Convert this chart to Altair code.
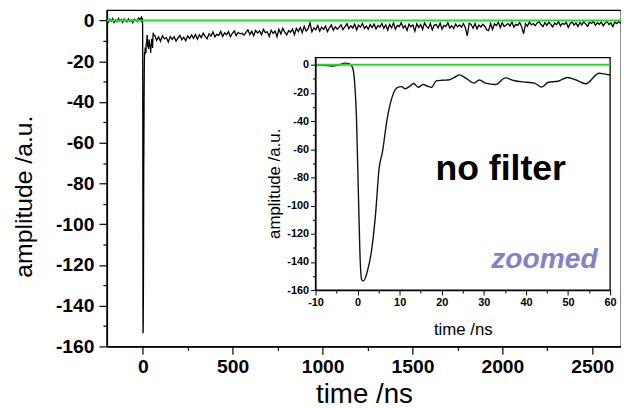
import altair as alt
import pandas as pd

FONT = "Liberation Sans"

# ---------------- data ----------------
# baseline before the trigger (main trace), sampled every 8 ns from -200 ns
pre_t_start = -200
pre_t_step = 8
pre_amp = [0.5, -0.8, 0.6, -0.4, 0.9, -1.0, 0.2, -0.6, 1.0, -0.3, 0.4, -0.9, 0.7,
           -0.2, -0.7, 0.8, -0.5, 0.3, -1.1, 0.6, 0.1, -0.4, 1.2, 0.5, 1.5]

# pulse region (shown in the zoomed inset)
pulse_t = [-10, -8, -6.3, -4.5, -3, -2, -1.2, -0.8, -0.25, 0.15, 0.55, 0.95, 1.4, 2.3,
           3.5, 4.3, 5.1, 5.9, 7.0, 8.2, 9.5, 10.5, 11.3, 12.5, 13.3, 14.4, 15.6, 16.8,
           17.6, 18.7, 20, 21.5, 23, 24.2, 25.7, 27.7, 28.9, 30.4, 32.8, 35.1, 37.1,
           40.2, 42, 43.7, 45.3, 47.6, 49.9, 51.9, 54.2, 57.4, 58.5, 60]
pulse_amp = [0, -0.3, -0.9, -0.3, 1.2, 0.8, -2, -9, -39, -86, -133, -152.5, -153.5,
             -147, -128, -105, -74, -62, -39, -23, -16, -15.5, -17, -15, -13.3, -16,
             -14, -15.5, -16, -11.4, -11, -10.8, -8.9, -7.2, -9.5, -13, -10.8, -13,
             -14, -9.3, -11.2, -12.4, -13, -15.9, -12.4, -11.7, -9, -10.8, -13.5, -6,
             -6.5, -7.3]

# slow tail of the main trace, sampled every 10.8 ns from 66 ns
tail_t_start = 66
tail_t_step = 10.8
tail_amp = [
    -7.2, -9.8, -8.1, -10.2, -7.5, -9.0, -8.4, -10.6, -7.9, -9.3, -8.0, -10.1, -8.6, -7.4,
    -9.5, -8.2, -10.0, -7.6, -8.9, -7.1,
    -8.8, -6.9, -9.2, -7.0, -8.4, -6.2, -7.8, -9.0, -6.5, -7.7, -5.6, -8.1, -6.8, -7.3,
    -5.4, -7.9, -6.1, -7.0, -5.5, -8.0, -6.3, -5.2, -7.4, -5.9, -6.6,
    -6.3, -7.2, -5.8, -4.6, -6.9, -5.3, -7.5, -4.9, -6.2, -5.1, -7.0, -4.4, -6.0, -5.6,
    -7.8, -4.8, -6.4, -5.2, -8.0, -4.3, -6.6, -3.9, -5.7, -7.1, -5.0,
    -5.8, -4.2, -7.0, -3.9, -5.5, -3.4, -6.0, -2.9, -5.2, -4.0, -1.2, -5.6, -3.6, -4.6,
    -2.5, -5.2, -3.3, -4.4, -2.7, -5.5, -3.6, -2.2, -4.8, -3.1, -4.2,
    -3.4, -2.1, -4.5, -3.0, -1.6, -4.0, -2.6, -3.7, -1.8, -4.6, -2.3, -3.3, -1.4, -3.9,
    -2.8, -4.3, -2.0, -3.5, -1.7, -4.1, -2.5, -3.2, -1.5, -3.8, -2.2,
    -4.7, -2.0, -3.6, -1.3, -4.2, -2.4, -3.0, -1.1, -3.7, -2.6, -4.9, -1.8, -3.1, -2.2,
    -5.3, -1.6, -3.4, -2.0, -4.4, -1.2, -2.9, -3.8, -1.5, -4.6, -2.3,
    -2.0, -3.6, -1.3, -4.2, -2.4, -3.0, -1.1, -3.7, -2.6, -4.0, -1.8, -3.1, -2.2, -3.3,
    -1.6, -3.4, -7.5, -1.4, -2.0, -3.8, -1.5, -4.1, -2.3, -3.2, -1.9,
    -2.8, -4.6, -5.0, -1.5, -4.4, -1.7, -2.5, -0.9, -3.5, -1.1, -3.0, -2.2, -1.5, -2.7,
    -0.8, -3.3, -1.9, -2.4, -1.0, -3.1, -6.6, -1.6, -2.8, -0.7, -2.2,
    -1.5, -2.6, -1.2, -0.6, -2.0, -3.0, -1.1, -2.4, -0.8, -1.9, -3.2, -1.3, -2.1, -0.5,
    -2.7, -1.4, -2.0, -0.9, -3.4, -1.6, -0.7, -2.3, -1.2, -2.9, -1.0,
    -2.2, -0.6, -1.8, -2.9, -0.9, -1.5, -0.4, -2.4, -1.1, -1.9, -0.7, -2.6, -1.3, -0.5,
    -2.0, -1.2, -3.0, -0.8, -1.6, -0.6, -1.4,
]

main_x_ticks = [0, 500, 1000, 1500, 2000, 2500]
main_x_minor = [250, 750, 1250, 1750, 2250]
y_ticks = [0, -20, -40, -60, -80, -100, -120, -140, -160]
y_minor = [-10, -30, -50, -70, -90, -110, -130, -150]
inset_x_ticks = [-10, 0, 10, 20, 30, 40, 50, 60]
inset_x_minor = [-5, 5, 15, 25, 35, 45, 55]

label_main = "no filter"
label_zoom = "zoomed"

# ---------------- tables ----------------
main_t = [pre_t_start + i * pre_t_step for i in range(len(pre_amp))]
main_a = list(pre_amp)
for t, a in zip(pulse_t, pulse_amp):
    if t > main_t[-1]:
        main_t.append(t)
        main_a.append(a)
for i, a in enumerate(tail_amp):
    main_t.append(round(tail_t_start + i * tail_t_step, 2))
    main_a.append(a)
main_df = pd.DataFrame({"t": main_t, "a": main_a})
inset_df = pd.DataFrame({"t": pulse_t, "a": pulse_amp})
dummy = pd.DataFrame({"t": [0], "a": [0]})

W, H = 520, 340
main_xs = alt.Scale(domain=[-200, 2660], nice=False, zero=False)
main_ys = alt.Scale(domain=[-160, 5], nice=False, zero=False)
ins_xs = alt.Scale(domain=[-10, 60], range=[211, 509], nice=False, zero=False)
ins_ys = alt.Scale(domain=[-160, 5], range=[283, 48], nice=False, zero=False)

LBL = "'' + datum.value"


def ax(**kw):
    base = dict(grid=False, labelFont=FONT, titleFont=FONT, tickColor="black",
                domainColor="black", labelColor="black", titleColor="black",
                labelFontWeight="bold", titleFontWeight="normal", labelFlush=False,
                labelOverlap=False, labelExpr=LBL)
    base.update(kw)
    return alt.Axis(**base)


main_x_axis = ax(orient="bottom", values=main_x_ticks, tickSize=8, tickWidth=1.2,
                 domainWidth=1.5, labelFontSize=19.5, labelPadding=3,
                 title="time /ns", titleFontSize=28, titlePadding=5)
main_y_axis = ax(orient="left", values=y_ticks, tickSize=8, tickWidth=1.2,
                 domainWidth=1.5, labelFontSize=19.5, labelPadding=5,
                 title="amplitude /a.u.", titleFontSize=25, titlePadding=19, titleY=188)
main_x_minor_axis = ax(orient="bottom", values=main_x_minor, tickSize=4, tickWidth=1.2,
                       domain=False, labels=False, title=None)
main_y_minor_axis = ax(orient="left", values=y_minor, tickSize=4, tickWidth=1.2,
                       domain=False, labels=False, title=None)

ins_x_axis = ax(orient="bottom", offset=283 - H, values=inset_x_ticks, tickSize=5,
                domainWidth=1.2, labelFontSize=11, labelPadding=2, zindex=1,
                title="time /ns", titleFontSize=17, titlePadding=14)
ins_y_axis = ax(orient="left", offset=-211, values=y_ticks, tickSize=5,
                domainWidth=1.2, labelFontSize=11, labelPadding=2, zindex=1,
                title="amplitude /a.u.", titleFontSize=17, titlePadding=3, titleY=175)
ins_x_minor_axis = ax(orient="bottom", offset=283 - H, values=inset_x_minor, tickSize=3,
                      domain=False, labels=False, title=None, zindex=1)
ins_y_minor_axis = ax(orient="left", offset=-211, values=y_minor, tickSize=3,
                      domain=False, labels=False, title=None, zindex=1)

GREEN = "#1ee01e"

main_line = alt.Chart(main_df).mark_line(color="#000000", strokeWidth=1.3).encode(
    x=alt.X("t:Q", scale=main_xs, axis=main_x_axis),
    y=alt.Y("a:Q", scale=main_ys, axis=main_y_axis),
)
main_minor = alt.Chart(dummy).mark_point(opacity=0).encode(
    x=alt.X("t:Q", scale=main_xs, axis=main_x_minor_axis),
    y=alt.Y("a:Q", scale=main_ys, axis=main_y_minor_axis),
)
main_green = alt.Chart(dummy).mark_rule(color=GREEN, strokeWidth=2).encode(
    y=alt.YDatum(0, scale=main_ys, axis=None),
)

inset_bg = alt.Chart(dummy).mark_rect(fill="white", stroke="black", strokeWidth=1.3).encode(
    x=alt.XDatum(-10, scale=ins_xs, axis=None),
    x2=alt.X2Datum(60),
    y=alt.YDatum(-160, scale=ins_ys, axis=None),
    y2=alt.Y2Datum(5),
)
inset_line = alt.Chart(inset_df).mark_line(color="#111111", strokeWidth=1.4,
                                           interpolate="monotone").encode(
    x=alt.X("t:Q", scale=ins_xs, axis=ins_x_axis),
    y=alt.Y("a:Q", scale=ins_ys, axis=ins_y_axis),
)
inset_minor = alt.Chart(dummy).mark_point(opacity=0).encode(
    x=alt.X("t:Q", scale=ins_xs, axis=ins_x_minor_axis),
    y=alt.Y("a:Q", scale=ins_ys, axis=ins_y_minor_axis),
)
inset_green = alt.Chart(dummy).mark_rule(color=GREEN, strokeWidth=2).encode(
    x=alt.XDatum(-10, scale=ins_xs, axis=None),
    x2=alt.X2Datum(60),
    y=alt.YDatum(0, scale=ins_ys, axis=None),
)
txt_main = alt.Chart(dummy).mark_text(text=label_main, font=FONT, fontSize=36,
                                      fontWeight="bold", color="black", align="center",
                                      baseline="alphabetic").encode(
    x=alt.XDatum(34, scale=ins_xs, axis=None),
    y=alt.YDatum(-82, scale=ins_ys, axis=None),
)
txt_zoom = alt.Chart(dummy).mark_text(text=label_zoom, font=FONT, fontSize=28.5,
                                      fontWeight="bold", fontStyle="italic",
                                      color="#8282c8", align="center",
                                      baseline="alphabetic").encode(
    x=alt.XDatum(44.4, scale=ins_xs, axis=None),
    y=alt.YDatum(-144, scale=ins_ys, axis=None),
)

chart = alt.layer(
    main_line, main_minor, main_green,
    inset_bg, inset_line, inset_minor, inset_green, txt_main, txt_zoom,
).resolve_scale(x="independent", y="independent").resolve_axis(
    x="independent", y="independent"
).properties(
    width=W, height=H,
    autosize=alt.AutoSizeParams(type="none"),
    padding={"left": 100, "top": 0, "right": 0, "bottom": 62},
    background="white",
).configure_view(stroke="black", strokeWidth=1.3)

chart.save("out.html", embed_options={"renderer": "svg", "actions": False})
